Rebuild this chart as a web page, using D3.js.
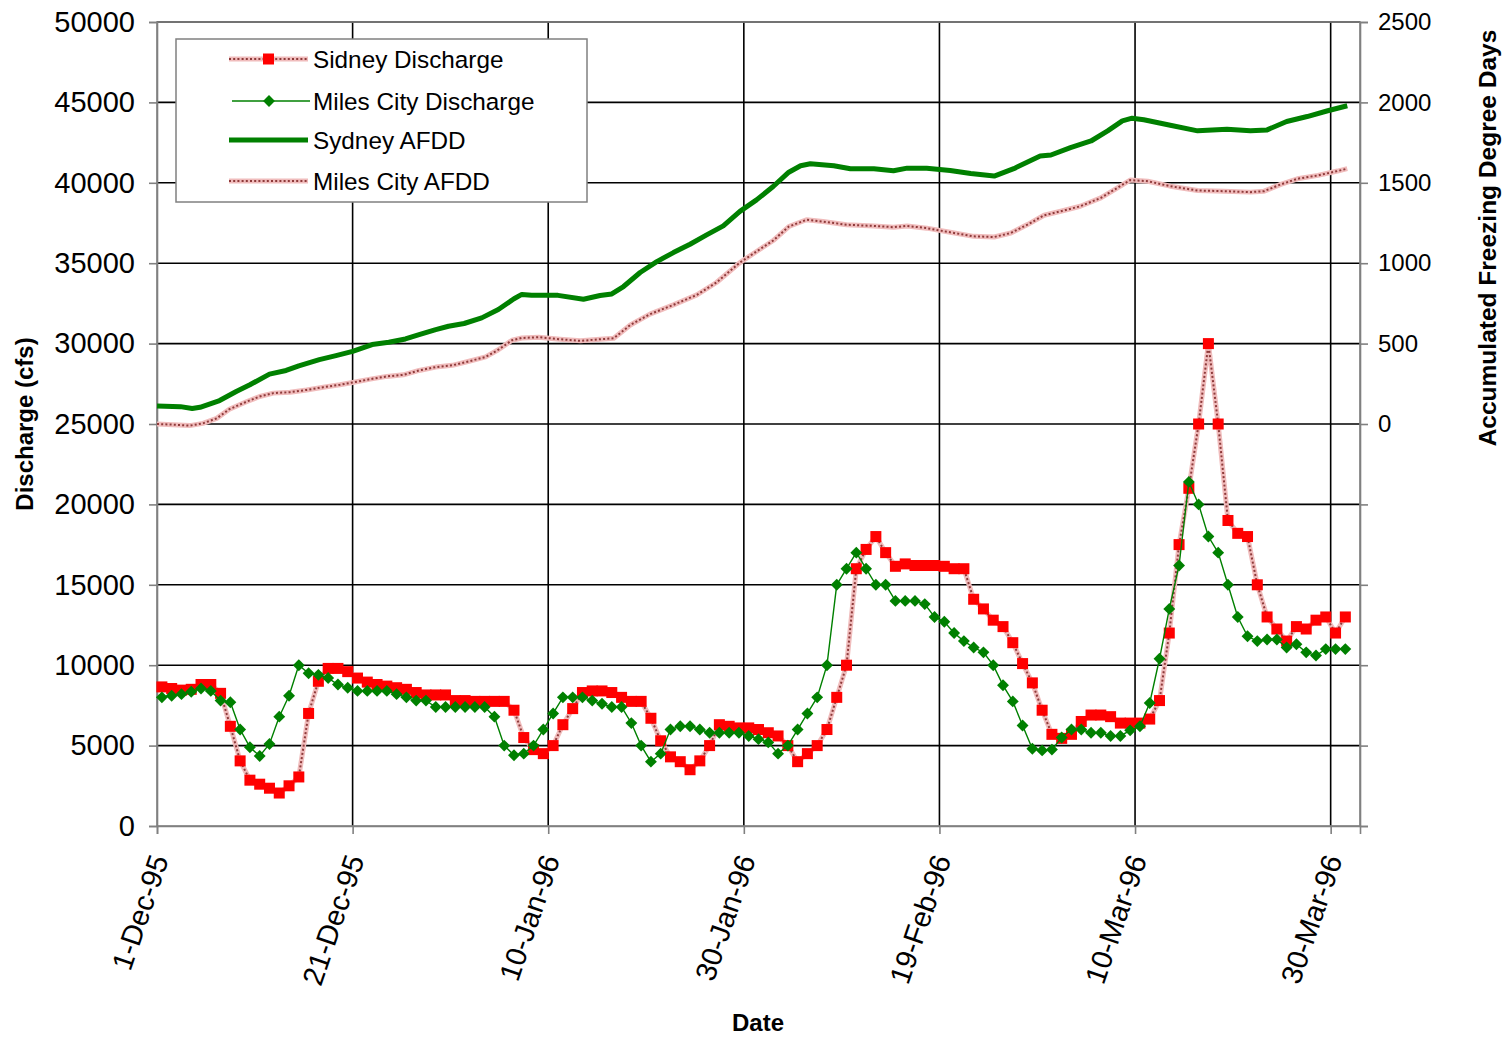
<!DOCTYPE html>
<html>
<head>
<meta charset="utf-8">
<script src="https://cdn.jsdelivr.net/npm/d3@7"></script>
<style>
  body { margin: 0; background: #fff; }
  svg { font-family: Arial, "Liberation Sans", sans-serif; }
</style>
</head>
<body>
<svg width="1510" height="1039"></svg>
<script>
// daily discharge, 1-Dec-95 .. 31-Mar-96 (cfs)
const startDate = Date.UTC(1995, 11, 1);
const endDate = Date.UTC(1996, 3, 2);

const sidneyQ = [
  8650, 8550, 8450, 8500, 8800, 8800, 8250, 6200, 4050, 2850, 2600, 2350, 2050, 2500, 3050, 7000,
  9000, 9800, 9800, 9600, 9200, 8950, 8800, 8700, 8600, 8500, 8300, 8150, 8150, 8150, 7800, 7800,
  7750, 7750, 7750, 7750, 7200, 5500, 4750, 4500, 5000, 6300, 7300, 8300, 8400, 8400, 8300, 8000,
  7750, 7750, 6700, 5300, 4300, 4000, 3500, 4050, 5000, 6300, 6200, 6100, 6100, 6000, 5800, 5600,
  5000, 4000, 4500, 5000, 6000, 8000, 10000, 16000, 17200, 18000, 17000, 16150, 16300, 16200, 16200,
  16200, 16150, 16000, 16000, 14100, 13500, 12800, 12400, 11400, 10100, 8900, 7200, 5700, 5450, 5700,
  6500, 6900, 6900, 6800, 6400, 6400, 6400, 6650, 7800, 12000, 17500, 21000, 25000, 30000, 25000,
  19000, 18200, 18000, 15000, 13000, 12250, 11500, 12400, 12250, 12800, 13000, 12000, 13000
];

const milesQ = [
  8000, 8100, 8200, 8350, 8550, 8400, 7800, 7700, 6000, 4900, 4350, 5100, 6800, 8100, 10000, 9500,
  9400, 9200, 8800, 8600, 8400, 8400, 8400, 8400, 8200, 8000, 7800, 7800, 7400, 7400, 7400, 7400,
  7400, 7400, 6800, 5000, 4400, 4500, 5000, 6000, 7000, 8000, 8000, 8000, 7800, 7600, 7400, 7400,
  6400, 5000, 4000, 4500, 6000, 6200, 6200, 6000, 5800, 5800, 5800, 5800, 5600, 5400, 5200, 4500,
  5000, 6000, 7000, 8000, 10000, 15000, 16000, 17000, 16000, 15000, 15000, 14000, 14000, 14000,
  13800, 13000, 12700, 12000, 11500, 11100, 10800, 10000, 8750, 7750, 6250, 4800, 4700, 4750, 5500,
  6000, 6000, 5800, 5800, 5600, 5600, 5950, 6200, 7650, 10400, 13500, 16200, 21400, 20000, 18000,
  17000, 15000, 13000, 11800, 11500, 11600, 11600, 11100, 11300, 10800, 10600, 11000, 11000, 11000
];

// accumulated freezing degree days, read at the bends of each curve (days after 1-Dec-95)
const sydneyAfddDay = [
  0, 2.4, 3.6, 4.4, 6.4, 8.1, 9.5, 11.5, 13.2, 14.5, 16.6, 18.3, 20, 22, 23.7, 25.4, 26.8, 28.5,
  29.8, 31.4, 33.2, 34.9, 36.5, 37.3, 38.3, 41, 43.6, 45.3, 46.5, 47.7, 49.4, 51.1, 52.8, 54.5,
  56.2, 57.9, 59.6, 61.3, 63, 64.6, 65.8, 66.8, 69.2, 70.9, 73.3, 75.3, 76.7, 78.7, 81.1, 83.2,
  85.6, 87.6, 90.3, 91.4, 93.4, 95.5, 97.2, 98.7, 99.7, 100.9, 103.6, 106.4, 109.4, 111.8, 113.5,
  115.5, 117.6, 119.7, 121.7
];
const sydneyAfdd = [
  112, 108, 96, 104, 146, 202, 244, 310, 333, 362, 400, 425, 452, 494, 508, 529, 556, 587,
  608, 625, 660, 712, 779, 806, 800, 800, 776, 799, 809, 855, 942, 1010, 1066, 1118,
  1176, 1232, 1322, 1394, 1477, 1566, 1606, 1618, 1606, 1587, 1587, 1575, 1591, 1591, 1577, 1558,
  1542, 1588, 1667, 1673, 1719, 1760, 1823, 1885, 1902, 1892, 1858, 1823, 1833, 1823, 1829,
  1881, 1912, 1948, 1979
];

const milesAfddDay = [
  0, 1.6, 3.35, 4.7, 6.1, 7.4, 9.2, 10.5, 11.9, 13.6, 15.3, 17, 18.7, 20, 21.8, 23.5, 25.2, 26.8,
  28.5, 30.2, 31.9, 33.6, 34.9, 36.3, 37.3, 39, 41.2, 43.3, 45.3, 46.7, 48.4, 50.4, 52.8, 55.2,
  57.2, 59.6, 61.3, 63, 64.6, 66.4, 68.1, 70.5, 73.3, 75.3, 76.7, 78.7, 81.1, 83.5, 85.6, 87.3,
  89, 90.7, 92.4, 94.4, 96.5, 98.2, 99.5, 101.3, 103.6, 106.4, 109.1, 111.8, 113.2, 114.9, 116.6,
  118.7, 120.7, 121.7
];
const milesAfdd = [
  0, -4, -10, 4, 35, 92, 140, 171, 192, 198, 212, 229, 244, 258, 279, 296, 306, 333,
  354, 365, 390, 417, 462, 521, 535, 540, 527, 517, 527, 533, 616, 683, 741, 803,
  880, 1004, 1073, 1141, 1228, 1270, 1259, 1239, 1232, 1224, 1232, 1218, 1192, 1167, 1163, 1188,
  1240, 1298, 1323, 1354, 1406, 1469, 1517, 1510, 1479, 1452, 1448, 1442, 1448, 1490, 1525,
  1546, 1573, 1588
];

const seriesNames = ["Sidney Discharge", "Miles City Discharge", "Sydney AFDD", "Miles City AFDD"];
const leftTicks = [0, 5000, 10000, 15000, 20000, 25000, 30000, 35000, 40000, 45000, 50000];
const rightTicks = [0, 500, 1000, 1500, 2000, 2500];

const dayMs = 86400000;
const qDates = sidneyQ.map((d, i) => new Date(startDate + (i + 0.5) * dayMs));

const margin = { left: 157, right: 1360, top: 22, bottom: 826 };
const svg = d3.select("svg");

const x = d3.scaleUtc().domain([new Date(startDate), new Date(endDate)]).range([margin.left, margin.right]);
const yL = d3.scaleLinear().domain([0, 50000]).range([margin.bottom, margin.top]);
const yR = d3.scaleLinear().domain([-2500, 2500]).range([margin.bottom, margin.top]);

const xTicks = d3.range(0, 7).map(k => new Date(startDate + k * 20 * dayMs));
const fmt = d3.utcFormat("%-d-%b-%y");

// gridlines
svg.append("g")
  .selectAll("line")
  .data(leftTicks.slice(1))
  .join("line")
  .attr("x1", margin.left).attr("x2", margin.right)
  .attr("y1", d => yL(d)).attr("y2", d => yL(d))
  .attr("stroke", "#000").attr("stroke-width", 1.6);

svg.append("g")
  .selectAll("line")
  .data(xTicks.slice(1))
  .join("line")
  .attr("x1", d => x(d)).attr("x2", d => x(d))
  .attr("y1", margin.top).attr("y2", margin.bottom)
  .attr("stroke", "#000").attr("stroke-width", 1.6);

// plot border
svg.append("rect")
  .attr("x", margin.left).attr("y", margin.top)
  .attr("width", margin.right - margin.left).attr("height", margin.bottom - margin.top)
  .attr("fill", "none").attr("stroke", "#808080").attr("stroke-width", 1.6);

// axes
const axL = svg.append("g")
  .attr("transform", `translate(${margin.left},0)`)
  .call(d3.axisLeft(yL).tickValues(leftTicks).tickSize(8).tickPadding(14).tickFormat(d3.format("d")));
axL.selectAll("text").style("font-size", "29px").attr("fill", "#000");

const axR = svg.append("g")
  .attr("transform", `translate(${margin.right},0)`)
  .call(d3.axisRight(yR).tickValues(d3.range(-2500, 2501, 500)).tickSize(8).tickPadding(10)
    .tickFormat(d => d >= 0 ? d : ""));
axR.selectAll("text").style("font-size", "24px").attr("fill", "#000");

const axB = svg.append("g")
  .attr("transform", `translate(0,${margin.bottom})`)
  .call(d3.axisBottom(x).tickValues(xTicks).tickSize(8).tickFormat(fmt));
axB.selectAll("text")
  .style("font-size", "29px").attr("fill", "#000")
  .style("text-anchor", "end")
  .attr("x", 0).attr("y", 0).attr("dy", "0.35em")
  .attr("transform", "translate(2,30) rotate(-71)");

svg.selectAll(".domain").attr("stroke", "#808080").attr("stroke-width", 1.6);
svg.selectAll(".tick line").attr("stroke", "#808080").attr("stroke-width", 1.6);

// axis titles
svg.append("text")
  .attr("transform", "translate(33,424) rotate(-90)")
  .attr("text-anchor", "middle")
  .style("font-size", "24px").style("font-weight", "bold")
  .text("Discharge (cfs)");

svg.append("text")
  .attr("transform", "translate(1496,238) rotate(-90)")
  .attr("text-anchor", "middle")
  .style("font-size", "24.5px").style("font-weight", "bold")
  .text("Accumulated Freezing Degree Days");

svg.append("text")
  .attr("x", 758).attr("y", 1031)
  .attr("text-anchor", "middle")
  .style("font-size", "24px").style("font-weight", "bold")
  .text("Date");

// dotted pink line helper
function pinkDotted(g, path) {
  g.append("path").attr("d", path).attr("fill", "none")
    .attr("stroke", "#f0bcbc").attr("stroke-width", 5).attr("stroke-linejoin", "round");
  g.append("path").attr("d", path).attr("fill", "none")
    .attr("stroke", "#8e3a3a").attr("stroke-width", 2).attr("stroke-dasharray", "2,2.2");
}

const plot = svg.append("g");

// AFDD curves (right axis)
const afddLine = d3.line().x(d => x(d[0])).y(d => yR(d[1]));
const milesAfddPts = milesAfddDay.map((d, i) => [new Date(startDate + d * dayMs), milesAfdd[i]]);
const sydneyAfddPts = sydneyAfddDay.map((d, i) => [new Date(startDate + d * dayMs), sydneyAfdd[i]]);

pinkDotted(plot.append("g"), afddLine(milesAfddPts));
plot.append("path")
  .attr("d", afddLine(sydneyAfddPts))
  .attr("fill", "none").attr("stroke", "#008000").attr("stroke-width", 5)
  .attr("stroke-linejoin", "round");

// discharge (left axis)
const qLine = d3.line().x((d, i) => x(qDates[i])).y(d => yL(d));

const sidG = plot.append("g");
pinkDotted(sidG, qLine(sidneyQ));
sidG.selectAll("rect")
  .data(sidneyQ)
  .join("rect")
  .attr("x", (d, i) => x(qDates[i]) - 5.5)
  .attr("y", d => yL(d) - 5.5)
  .attr("width", 11).attr("height", 11)
  .attr("fill", "#ff0000");

const milG = plot.append("g");
milG.append("path")
  .attr("d", qLine(milesQ))
  .attr("fill", "none").attr("stroke", "#008000").attr("stroke-width", 1.4);
milG.selectAll("path.m")
  .data(milesQ)
  .join("path")
  .attr("class", "m")
  .attr("d", d3.symbol(d3.symbolDiamond2, 90))
  .attr("transform", (d, i) => `translate(${x(qDates[i])},${yL(d)})`)
  .attr("fill", "#008000");

// legend
const leg = svg.append("g");
leg.append("rect")
  .attr("x", 176).attr("y", 39).attr("width", 411).attr("height", 163)
  .attr("fill", "#fff").attr("stroke", "#808080").attr("stroke-width", 1.5);

const rowY = [59, 101, 140, 181];
seriesNames.forEach((name, i) => {
  const y = rowY[i];
  if (i === 0 || i === 3) {
    pinkDotted(leg, `M229,${y}L308,${y}`);
  }
  if (i === 0) {
    leg.append("rect").attr("x", 263).attr("y", y - 5.5).attr("width", 11).attr("height", 11).attr("fill", "#ff0000");
  }
  if (i === 1) {
    leg.append("line").attr("x1", 232).attr("x2", 310).attr("y1", y).attr("y2", y)
      .attr("stroke", "#008000").attr("stroke-width", 1.4);
    leg.append("path").attr("d", d3.symbol(d3.symbolDiamond2, 90))
      .attr("transform", `translate(269,${y})`).attr("fill", "#008000");
  }
  if (i === 2) {
    leg.append("line").attr("x1", 229).attr("x2", 308).attr("y1", y).attr("y2", y)
      .attr("stroke", "#008000").attr("stroke-width", 5);
  }
  leg.append("text")
    .attr("x", 313).attr("y", y).attr("dy", "0.35em")
    .style("font-size", "24.3px")
    .text(name);
});
</script>
</body>
</html>
